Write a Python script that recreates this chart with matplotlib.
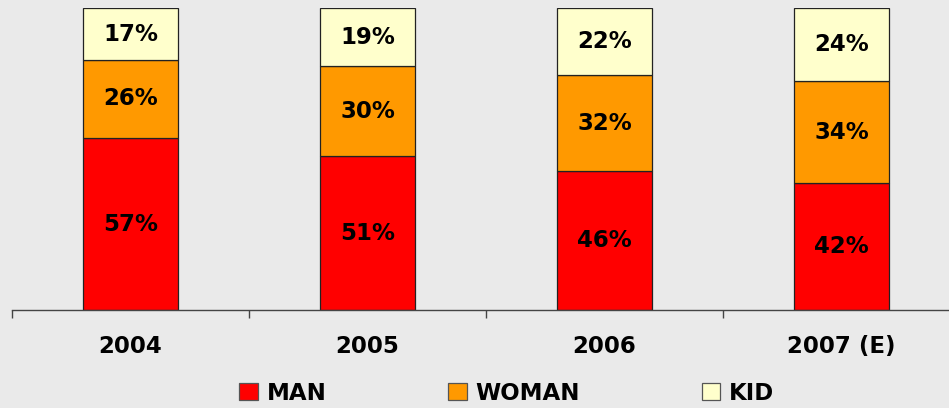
import matplotlib.pyplot as plt
import numpy as np

years = ['2004', '2005', '2006', '2007 (E)']
man = [57, 51, 46, 42]
woman = [26, 30, 32, 34]
kid = [17, 19, 22, 24]

series = [('MAN', man, '#FF0000'), ('WOMAN', woman, '#FF9900'), ('KID', kid, '#FFFFCC')]

bg = '#EAEAEA'
fs = 16.5
fig = plt.figure(figsize=(9.49, 4.08), dpi=100, facecolor=bg)
ax = fig.add_axes([12 / 949, 98 / 408, 948 / 949, 301.5 / 408])
ax.set_facecolor(bg)

x = np.arange(len(years))
bottom = np.zeros(len(years))
for name, vals, col in series:
    ax.bar(x, vals, 0.4, bottom=bottom, color=col, edgecolor='#222222',
           linewidth=0.9, label=name)
    for xi, b, v in zip(x, bottom, vals):
        ax.text(xi, b + v / 2, f'{v}%', ha='center', va='center',
                fontsize=fs, fontweight='bold', color='black')
    bottom += np.array(vals)

ax.set_xlim(-0.5, 3.5)
ax.set_ylim(0, 100)

# ticks at category boundaries, labels at centres
ax.set_xticks(np.arange(-0.5, 4, 1))
ax.set_xticklabels([])
ax.set_xticks(x, minor=True)
ax.set_xticklabels(years, minor=True, fontsize=fs, fontweight='bold')
ax.tick_params(axis='x', which='major', length=6, color='#444444', width=1)
ax.tick_params(axis='x', which='minor', length=0, pad=18)
ax.set_yticks([])

for s in ['top', 'right', 'left']:
    ax.spines[s].set_visible(False)
ax.spines['bottom'].set_color('#444444')
ax.spines['bottom'].set_linewidth(1)

handles, labels = ax.get_legend_handles_labels()
leg = fig.legend(handles, labels, loc='center', bbox_to_anchor=(507 / 949, 1 - 393 / 408),
                 ncol=3, frameon=False, prop={'weight': 'bold', 'size': fs},
                 handlelength=0.8, handleheight=0.75, handletextpad=0.4,
                 columnspacing=5.3, borderaxespad=0)
for h in leg.legend_handles:
    h.set_edgecolor('#555555')
    h.set_linewidth(0.9)

fig.savefig('out.png', dpi=100, facecolor=bg)
